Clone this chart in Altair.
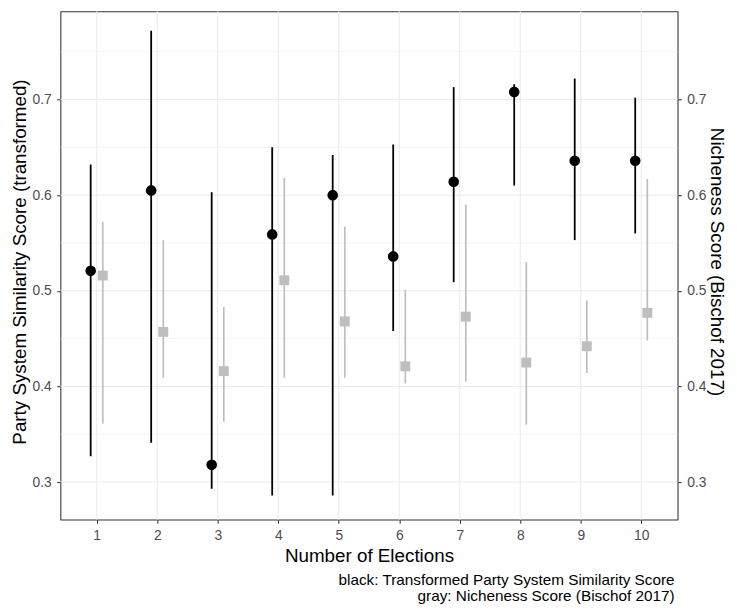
import altair as alt
import pandas as pd

# ---- data ----
elections = [1, 2, 3, 4, 5, 6, 7, 8, 9, 10]
black_est = [0.521, 0.605, 0.318, 0.559, 0.600, 0.536, 0.614, 0.708, 0.636, 0.636]
black_lo = [0.327, 0.341, 0.293, 0.286, 0.286, 0.458, 0.509, 0.610, 0.553, 0.560]
black_hi = [0.632, 0.772, 0.603, 0.650, 0.642, 0.653, 0.713, 0.716, 0.722, 0.702]
gray_est = [0.516, 0.457, 0.416, 0.511, 0.468, 0.421, 0.473, 0.425, 0.442, 0.477]
gray_lo = [0.361, 0.409, 0.363, 0.409, 0.409, 0.403, 0.405, 0.360, 0.414, 0.448]
gray_hi = [0.572, 0.553, 0.483, 0.618, 0.567, 0.501, 0.590, 0.530, 0.490, 0.617]
y_ticks = [0.3, 0.4, 0.5, 0.6, 0.7]
y_minor = [0.35, 0.45, 0.55, 0.65, 0.75]
caption_lines = ["black: Transformed Party System Similarity Score",
                 "gray: Nicheness Score (Bischof 2017)"]

black_df = pd.DataFrame({"election": elections, "est": black_est, "lo": black_lo, "hi": black_hi})
gray_df = pd.DataFrame({"election": elections, "est": gray_est, "lo": gray_lo, "hi": gray_hi})
minor_df = pd.DataFrame({"v": y_minor})
major_df = pd.DataFrame({"v": y_ticks})
xgrid_df = pd.DataFrame({"e": elections})

FONT = "Liberation Sans"
GRID = "#EBEBEB"
DARK = "#333333"
LABEL = "#4D4D4D"
GRAY = "#BEBEBE"
TICK_FS = 14
TITLE_FS = 19

x_scale = alt.Scale(domain=[0.4, 10.6], nice=False, zero=False)
y_scale = alt.Scale(domain=[0.2607, 0.7923], nice=False, zero=False)

x_axis = alt.Axis(values=elections, format="d", title="Number of Elections",
                  grid=False, domain=False,
                  tickColor=DARK, tickWidth=1.07, tickSize=3.7,
                  labelColor=LABEL, labelFontSize=TICK_FS, labelFont=FONT, labelPadding=5.5,
                  titleFont=FONT, titleFontSize=TITLE_FS, titleFontWeight="normal",
                  titleColor="black", titleY=42, titleBaseline="alphabetic")

left_axis = alt.Axis(orient="left", values=y_ticks, format=".1f",
                     title="Party System Similarity Score (transformed)",
                     grid=False, domain=False,
                     tickColor=DARK, tickWidth=1.07, tickSize=3.7,
                     labelColor=LABEL, labelFontSize=TICK_FS, labelFont=FONT, labelPadding=5.5,
                     titleFont=FONT, titleFontSize=TITLE_FS, titleFontWeight="normal",
                     titleColor="black", titleX=-35, titleY=253, titleAngle=270,
                     titleAlign="center", titleBaseline="alphabetic")

right_axis = alt.Axis(orient="right", values=y_ticks, format=".1f",
                      title="Nicheness Score (Bischof 2017)",
                      grid=False, domain=False,
                      tickColor=DARK, tickWidth=1.07, tickSize=3.7,
                      labelColor=LABEL, labelFontSize=TICK_FS, labelFont=FONT, labelPadding=5.5,
                      titleFont=FONT, titleFontSize=TITLE_FS, titleFontWeight="normal",
                      titleColor="black", titleX=33, titleY=253, titleAngle=90,
                      titleAlign="center", titleBaseline="alphabetic")

# panel grid (theme_bw style)
minor = alt.Chart(minor_df).mark_rule(color=GRID, strokeWidth=0.55).encode(
    y=alt.Y("v:Q", scale=y_scale, axis=None)
)
major = alt.Chart(major_df).mark_rule(color=GRID, strokeWidth=1.07).encode(
    y=alt.Y("v:Q", scale=y_scale, axis=None)
)
xgrid = alt.Chart(xgrid_df).mark_rule(color=GRID, strokeWidth=1.07).encode(
    x=alt.X("e:Q", scale=x_scale, axis=x_axis)
)

black_base = alt.Chart(black_df).transform_calculate(xd="datum.election - 0.1")
black_rule = black_base.mark_rule(color="black", strokeWidth=1.8).encode(
    x=alt.X("xd:Q", scale=x_scale, axis=x_axis),
    y=alt.Y("lo:Q", scale=y_scale, axis=left_axis),
    y2="hi:Q",
)
black_pt = black_base.mark_point(shape="circle", filled=True, size=115, color="black", opacity=1).encode(
    x=alt.X("xd:Q", scale=x_scale, axis=x_axis),
    y=alt.Y("est:Q", scale=y_scale, axis=None),
)

gray_base = alt.Chart(gray_df).transform_calculate(xd="datum.election + 0.1")
gray_rule = gray_base.mark_rule(color=GRAY, strokeWidth=1.7).encode(
    x=alt.X("xd:Q", scale=x_scale, axis=x_axis),
    y=alt.Y("lo:Q", scale=y_scale, axis=right_axis),
    y2="hi:Q",
)
gray_pt = gray_base.mark_point(shape="square", filled=True, size=100, color=GRAY, opacity=1).encode(
    x=alt.X("xd:Q", scale=x_scale, axis=x_axis),
    y=alt.Y("est:Q", scale=y_scale, axis=None),
)

cap1 = alt.Chart(alt.Data(values=[{}])).mark_text(
    text=caption_lines[0], align="right", baseline="alphabetic",
    font=FONT, fontSize=15.5, color="black"
).encode(x=alt.value(621), y=alt.value(580))
cap2 = alt.Chart(alt.Data(values=[{}])).mark_text(
    text=caption_lines[1], align="right", baseline="alphabetic",
    font=FONT, fontSize=15.5, color="black"
).encode(x=alt.value(621), y=alt.value(596))

chart = alt.layer(
    minor, major, xgrid, black_rule, black_pt, gray_rule, gray_pt, cap1, cap2
).resolve_scale(
    y="shared"
).resolve_axis(
    y="independent"
).properties(
    width=624, height=514,
    autosize=alt.AutoSizeParams(type="none"),
    padding={"left": 53, "top": 0, "right": 52, "bottom": 85},
).configure_view(
    stroke=DARK, strokeWidth=1.07
)

chart.save("out.html", embed_options={"renderer": "svg", "actions": False})
